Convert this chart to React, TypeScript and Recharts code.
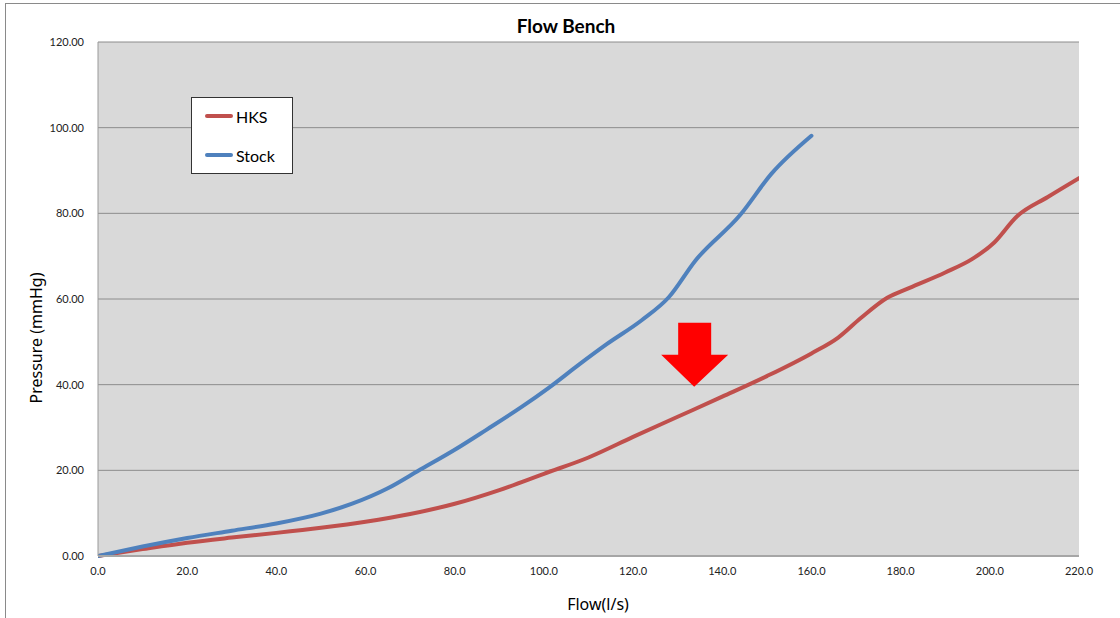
import React from "react";
import { LineChart, Line, XAxis, YAxis, CartesianGrid, ReferenceDot } from "recharts";

const chartTitle = "Flow Bench";
const xAxisTitle = "Flow(l/s)";
const yAxisTitle = "Pressure (mmHg)";

const xTicks = [0, 20, 40, 60, 80, 100, 120, 140, 160, 180, 200, 220];
const yTicks = [0, 20, 40, 60, 80, 100, 120];

const hksFlow = [0, 10, 20, 30, 40, 50, 60, 70, 80, 90, 100, 110, 120, 130, 140, 150, 160, 166, 171, 177, 182, 190, 196, 201, 206, 213, 220];
const hksPressure = [0, 1.6, 3.1, 4.3, 5.4, 6.6, 8.0, 9.8, 12.2, 15.4, 19.2, 23.0, 27.8, 32.5, 37.2, 42.0, 47.3, 51.0, 55.5, 60.3, 62.6, 66.2, 69.3, 73.2, 79.2, 83.8, 88.2];

const stockFlow = [0, 10, 20, 30, 40, 50, 57, 65, 72, 80, 87, 95, 101, 108, 114, 122, 128, 134, 144, 151, 160];
const stockPressure = [0, 2.2, 4.2, 5.9, 7.6, 9.9, 12.2, 15.8, 20.0, 24.8, 29.4, 34.8, 39.2, 44.8, 49.4, 55.1, 60.4, 69.0, 79.6, 89.2, 98.1];

const annotationArrow = { flow: 133.7, pressure: 39.5 };

const seriesList = [
  { name: "HKS", color: "#c0504d", flow: hksFlow, pressure: hksPressure },
  { name: "Stock", color: "#4f81bd", flow: stockFlow, pressure: stockPressure },
];

const ArrowShape = (props: any) => {
  const { cx, cy } = props;
  if (cx == null || cy == null) return null;
  const pts = [
    [cx, cy],
    [cx - 33, cy - 32],
    [cx - 16, cy - 32],
    [cx - 16, cy - 64],
    [cx + 17, cy - 64],
    [cx + 17, cy - 32],
    [cx + 34, cy - 32],
  ]
    .map((p) => p.join(","))
    .join(" ");
  return <polygon points={pts} fill="#ff0000" />;
};

export default function App() {
  const tickFont = { fontFamily: "Lato, 'Open Sans', sans-serif", fontSize: 11, fill: "#222" };
  return (
    <div style={{ position: "absolute", left: 0, top: 0, width: 1120, height: 618, background: "#fff", overflow: "hidden" }}>
      <div
        style={{
          position: "absolute",
          left: 5,
          top: 3,
          width: 1200,
          height: 700,
          borderTop: "1px solid #8a8a8a",
          borderLeft: "1px solid #8a8a8a",
        }}
      />
      <div
        style={{
          position: "absolute",
          left: 0,
          width: 1132,
          top: 14,
          textAlign: "center",
          fontFamily: "Lato, sans-serif",
          fontWeight: 700,
          fontSize: 19,
          color: "#000",
          lineHeight: "24px",
        }}
      >
        {chartTitle}
      </div>
      <div style={{ position: "absolute", left: 0, top: 0 }}>
        <LineChart width={1120} height={618} margin={{ top: 42, right: 41, left: 0, bottom: 0 }}>
          <CartesianGrid vertical={false} fill="#d9d9d9" stroke="#8c8c8c" strokeWidth={1} />
          <XAxis
            type="number"
            dataKey="x"
            domain={[0, 220]}
            ticks={xTicks}
            allowDataOverflow
            height={62}
            tickFormatter={(v: number) => v.toFixed(1)}
            tick={tickFont}
            tickLine={false}
            tickMargin={5}
            axisLine={{ stroke: "#a6a6a6", strokeWidth: 2 }}
          />
          <YAxis
            type="number"
            domain={[0, 120]}
            ticks={yTicks}
            width={98}
            tickFormatter={(v: number) => v.toFixed(2)}
            tick={tickFont}
            tickLine={false}
            tickMargin={8}
            axisLine={{ stroke: "#9a9a9a", strokeWidth: 1 }}
          />
          {seriesList.map((s) => (
            <Line
              key={s.name}
              name={s.name}
              data={s.flow.map((f, i) => ({ x: f, y: s.pressure[i] }))}
              dataKey="y"
              type="monotone"
              stroke={s.color}
              strokeWidth={4}
              strokeLinecap="round"
              dot={false}
              activeDot={false}
              isAnimationActive={false}
            />
          ))}
          <ReferenceDot
            x={annotationArrow.flow}
            y={annotationArrow.pressure}
            r={0}
            shape={<ArrowShape />}
            ifOverflow="visible"
          />
        </LineChart>
      </div>
      <svg style={{ position: "absolute", left: 0, top: 0 }} width={1120} height={618} pointerEvents="none">
        <text
          x={36}
          y={338}
          transform="rotate(-90 36 338)"
          textAnchor="middle"
          dominantBaseline="central"
          style={{ fontFamily: "'Noto Sans', sans-serif", fontSize: 16, fill: "#000" }}
        >
          {yAxisTitle}
        </text>
        <text
          x={598}
          y={604}
          textAnchor="middle"
          dominantBaseline="central"
          style={{ fontFamily: "'Noto Sans', sans-serif", fontSize: 16, fill: "#000" }}
        >
          {xAxisTitle}
        </text>
      </svg>
      <div
        style={{
          position: "absolute",
          left: 191,
          top: 97,
          width: 102,
          height: 77,
          background: "#fff",
          border: "1px solid #333",
          boxSizing: "border-box",
        }}
      >
        {seriesList.map((s, i) => (
          <div
            key={s.name}
            style={{
              position: "absolute",
              left: 13,
              top: 7 + i * 39,
              height: 22,
              display: "flex",
              alignItems: "center",
              fontFamily: "Lato, sans-serif",
              fontSize: 16,
              color: "#000",
            }}
          >
            <span style={{ display: "inline-block", width: 28, height: 4, borderRadius: 2, background: s.color, marginRight: 3 }} />
            <span>{s.name}</span>
          </div>
        ))}
      </div>
    </div>
  );
}
